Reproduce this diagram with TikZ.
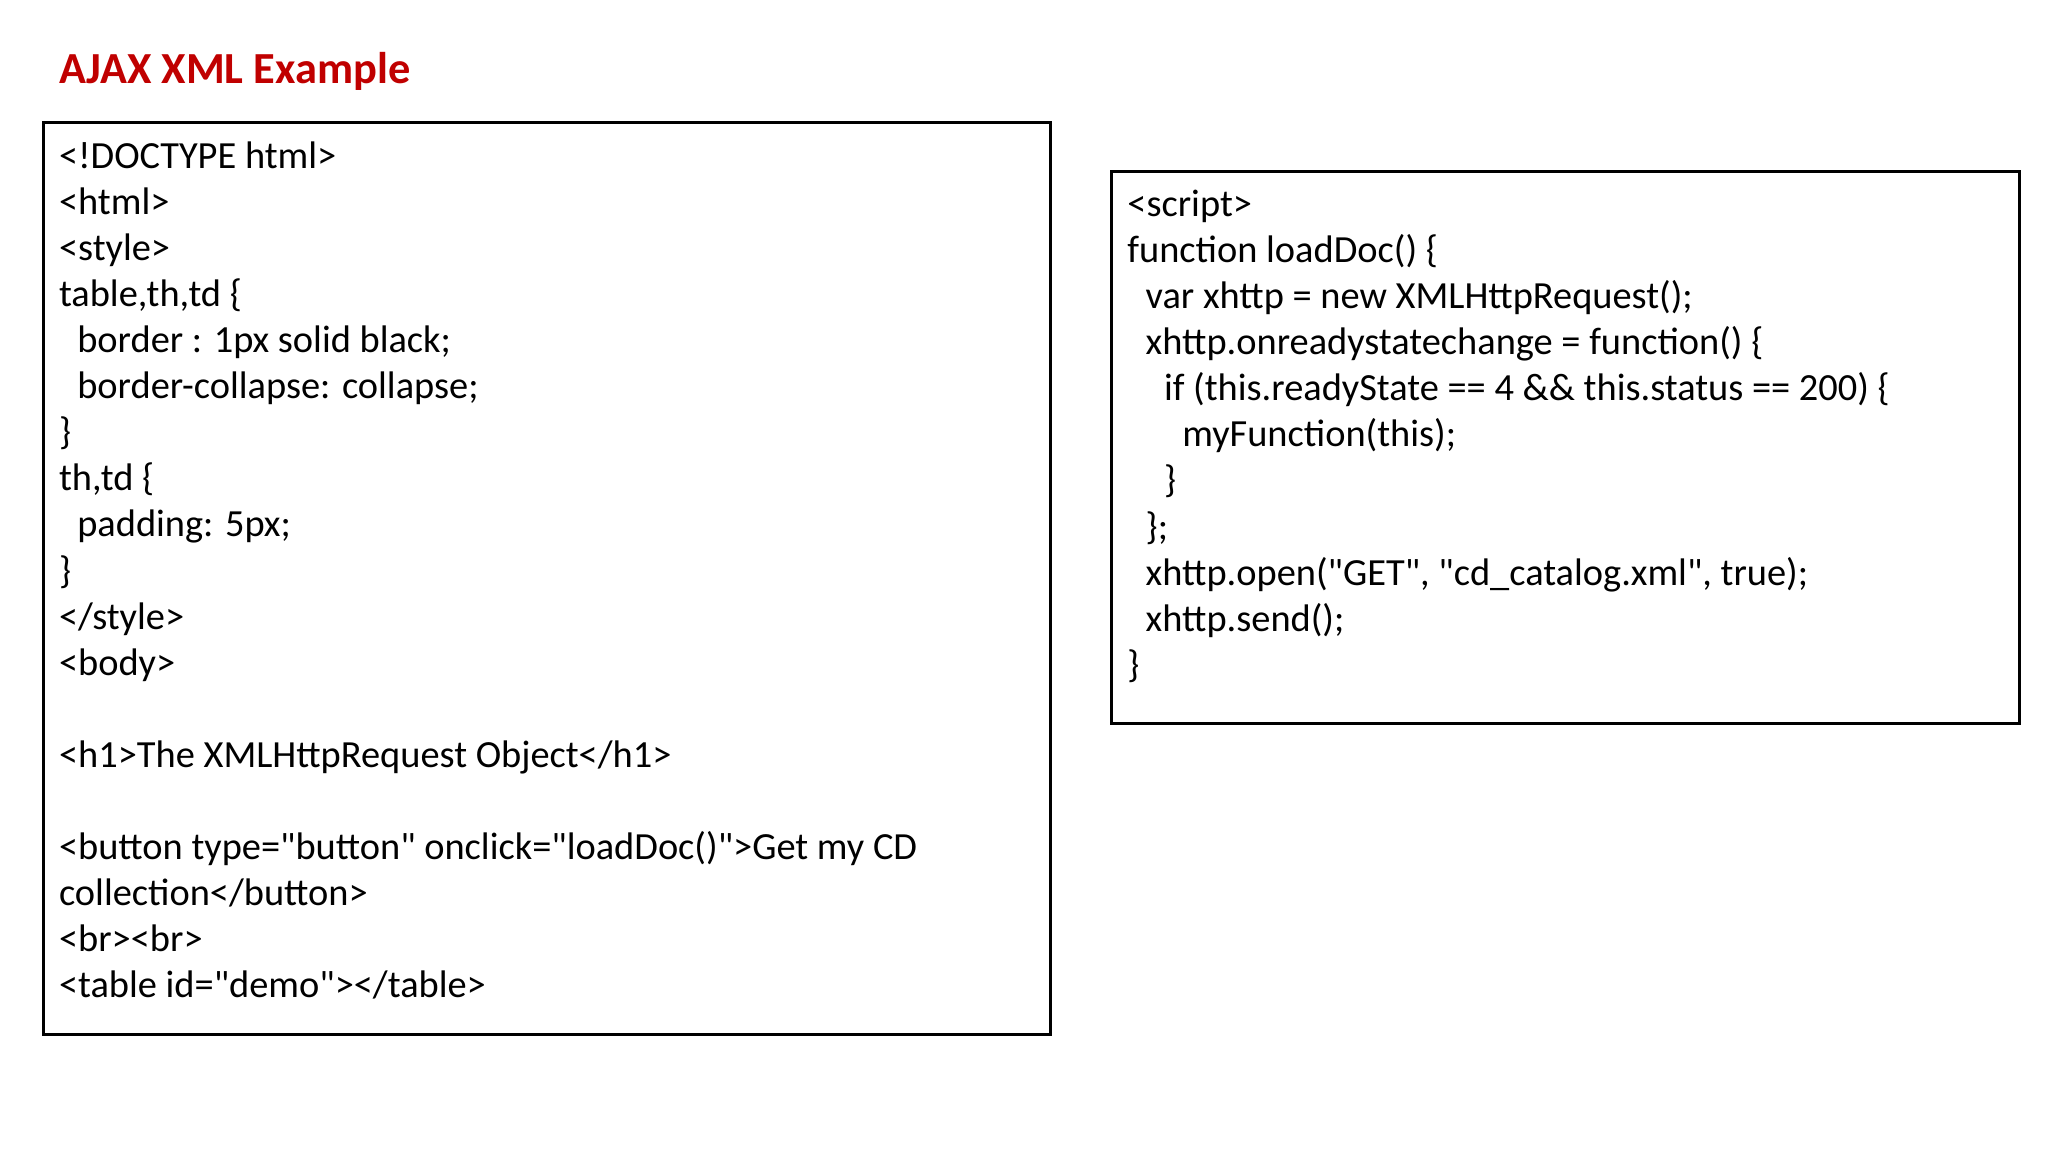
\documentclass[tikz,border=0pt]{standalone}
\usepackage{fontspec}
\setmainfont{Carlito}[Ligatures=TeXOff]
\definecolor{titlered}{RGB}{192,0,0}
\begin{document}
\begin{tikzpicture}[x=1pt,y=-1pt,
  box/.style={draw=black,line width=2.2pt},
  code/.style={anchor=north west,inner sep=0pt,align=left,font=\fontsize{29.4}{35.25}\selectfont}]
\useasboundingbox (0,0) rectangle (1568,882);
\node[anchor=west,inner sep=0pt,text=titlered,font=\bfseries\fontsize{34}{36}\selectfont] (title) at (45,55) {AJAX XML Example};
\draw[box] (33,94) rectangle (804,792);
\draw[box] (851,131) rectangle (1546,554);
\newcommand{\ind}[1]{\hspace*{#1pt}}
\node[code] (left) at (45,108.5) {<!DOCTYPE html>\\
<html>\\
<style>\\
table,th,td \{\\
\ind{14}border : 1px solid black;\\
\ind{14}border-collapse: collapse;\\
\}\\
th,td \{\\
\ind{14}padding: 5px;\\
\}\\
</style>\\
<body>\\
\mbox{}\\
<h1>The XMLHttpRequest Object</h1>\\
\mbox{}\\
<button type="button" onclick="loadDoc()">Get my CD\\
collection</button>\\
<br><br>\\
<table id="demo"></table>};
\node[code] (right) at (863,145.5) {<script>\\
function loadDoc() \{\\
\ind{14}var xhttp = new XMLHttpRequest();\\
\ind{14}xhttp.onreadystatechange = function() \{\\
\ind{28}if (this.readyState == 4 \&\& this.status == 200) \{\\
\ind{42}myFunction(this);\\
\ind{28}\}\\
\ind{14}\};\\
\ind{14}xhttp.open("GET", "cd\_catalog.xml", true);\\
\ind{14}xhttp.send();\\
\}};
\end{tikzpicture}
\end{document}
